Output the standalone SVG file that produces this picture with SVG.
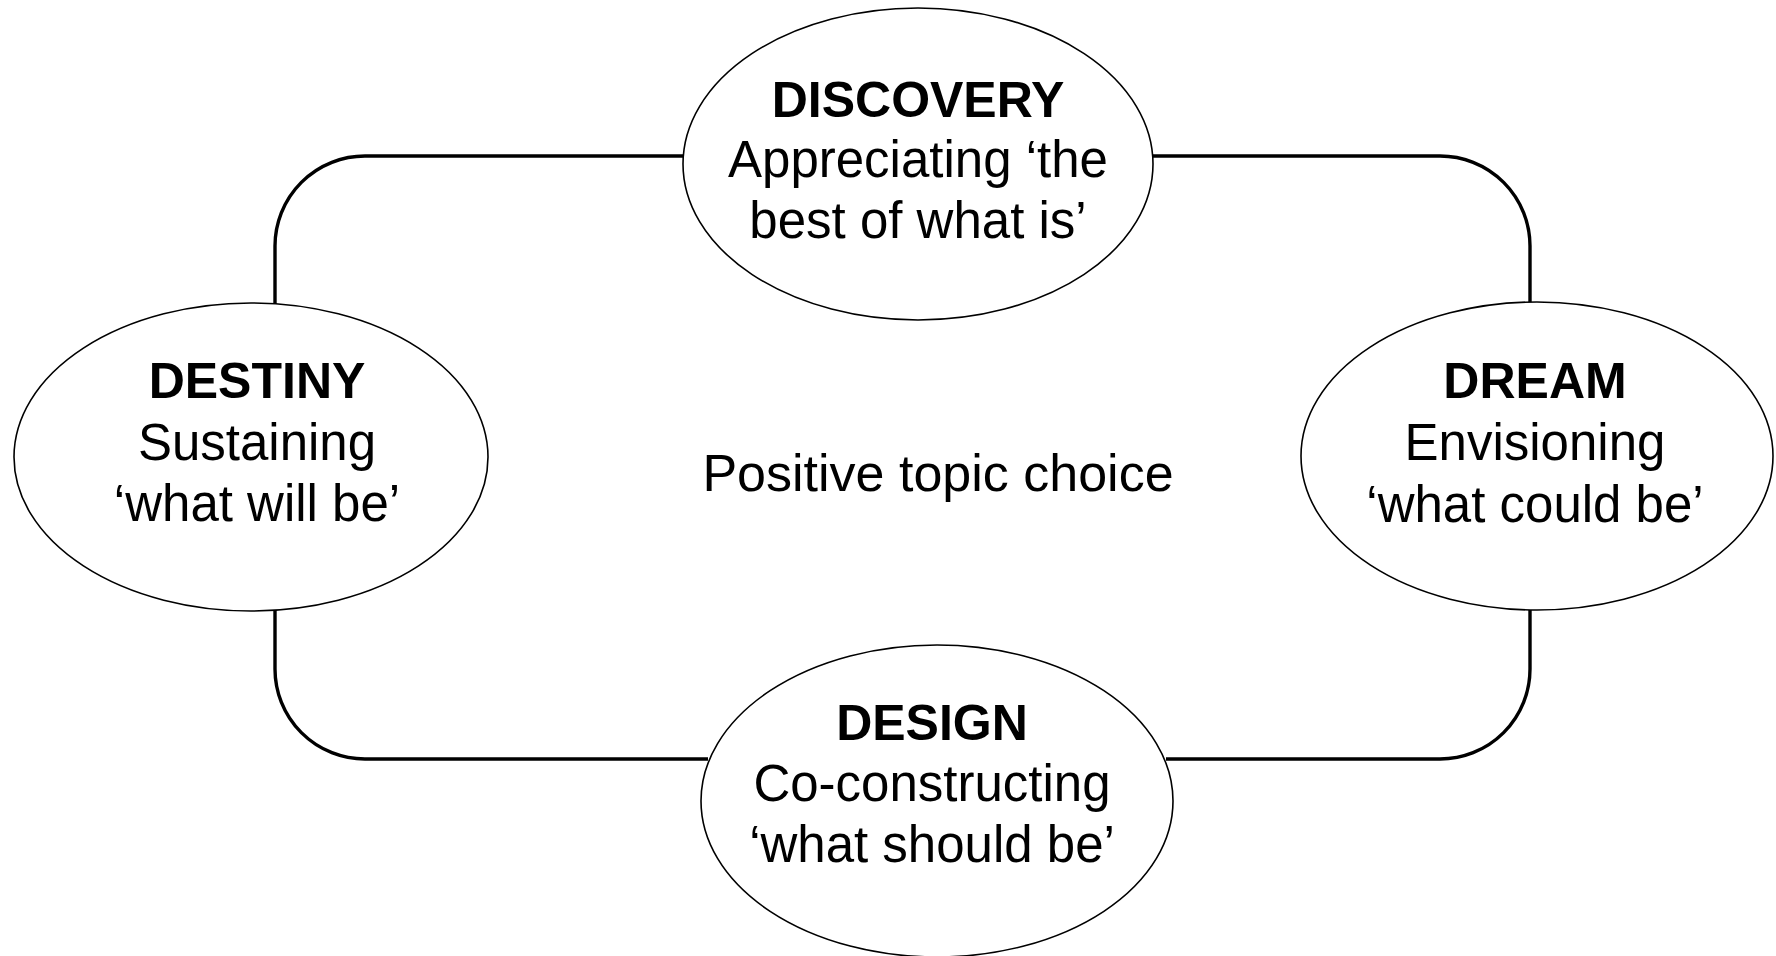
<svg xmlns="http://www.w3.org/2000/svg" width="1776" height="956" viewBox="0 0 1776 956">
<style>
.bg{fill:#ffffff}
.conn{fill:none;stroke:#000000;stroke-width:3.4}
.node{fill:#ffffff;stroke:#000000;stroke-width:1.6}
.t{font-family:"Liberation Sans",Arial,sans-serif;font-size:51px;fill:#000000;text-anchor:middle}
.b{font-weight:bold;font-size:50px}
</style>
<rect class="bg" x="0" y="0" width="1776" height="956"/>
<g id="connectors">
<path class="conn" d="M 1150 156 H 1440 A 90 90 0 0 1 1530 246 V 304"/>
<path class="conn" d="M 1530 608 V 669 A 90 90 0 0 1 1440 759 H 1166"/>
<path class="conn" d="M 708 759 H 365 A 90 90 0 0 1 275 669 V 608"/>
<path class="conn" d="M 275 306 V 246 A 90 90 0 0 1 365 156 H 686"/>
</g>
<g id="discovery">
<ellipse class="node" cx="918" cy="164" rx="235" ry="156"/>
<text class="t b" x="918" y="117">DISCOVERY</text>
<text class="t" x="918" y="177">Appreciating ‘the</text>
<text class="t" x="918" y="238">best of what is’</text>
</g>
<g id="dream">
<ellipse class="node" cx="1537" cy="456" rx="236" ry="154"/>
<text class="t b" x="1535" y="398">DREAM</text>
<text class="t" x="1535" y="460">Envisioning</text>
<text class="t" x="1535" y="522">‘what could be’</text>
</g>
<g id="design">
<ellipse class="node" cx="937" cy="801" rx="236" ry="156"/>
<text class="t b" x="932" y="740">DESIGN</text>
<text class="t" x="932" y="801">Co-constructing</text>
<text class="t" x="932" y="862">‘what should be’</text>
</g>
<g id="destiny">
<ellipse class="node" cx="251" cy="457" rx="237" ry="154"/>
<text class="t b" x="257" y="398">DESTINY</text>
<text class="t" x="257" y="460">Sustaining</text>
<text class="t" x="257" y="521">‘what will be’</text>
</g>
<g id="center">
<text class="t" x="938" y="491" style="font-size:52px">Positive topic choice</text>
</g>
</svg>
